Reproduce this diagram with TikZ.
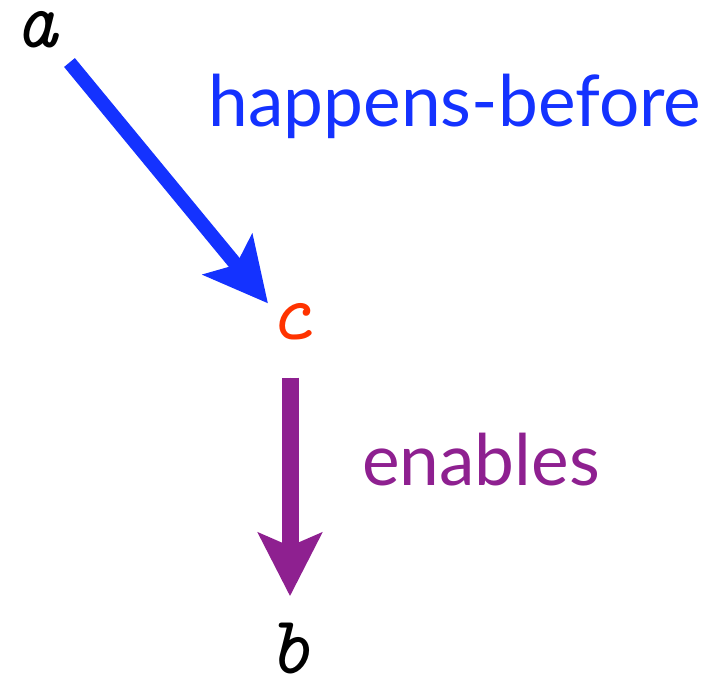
\documentclass[tikz,border=0pt]{standalone}
\usepackage{fontspec}
\setmainfont{Lato}
\usepackage{tikz}
\usetikzlibrary{arrows.meta}

\definecolor{hbblue}{RGB}{20,50,255}
\definecolor{cred}{RGB}{255,51,0}
\definecolor{enpurple}{RGB}{142,32,144}

\begin{document}
\begin{tikzpicture}[
  x=0.02cm, y=-0.02cm,
  event/.style={
    font=\ttfamily\itshape\fontsize{47}{50}\selectfont,
    inner sep=0pt
  },
  relabel/.style={
    font=\fontsize{40.5}{44}\selectfont,
    inner sep=0pt
  },
  relarrow/.style={
    -{Stealth[length=1.26cm, width=1.26cm, inset=0.26cm]}
  }
]
\useasboundingbox (0,0) rectangle (712,679);

% Events
\node[event] (a) at (36,30) {a};
\node[event, text=cred] (c) at (290,322) {c};
\node[event] (b) at (290,649) {b};

% Relation labels
\node[relabel, text=hbblue] (hb) at (455,106) {happens-before};
\node[relabel, text=enpurple] (en) at (481,460) {enables};

% Arrows between events
\draw[relarrow, draw=hbblue, fill=hbblue, line width=0.28cm, shorten <=0.36cm]
  (a.south east) -- (c.north west);
\draw[relarrow, draw=enpurple, fill=enpurple, line width=0.34cm,
  shorten <=0.74cm, shorten >=0.54cm]
  (c.south) -- (b.north);

\end{tikzpicture}
\end{document}
